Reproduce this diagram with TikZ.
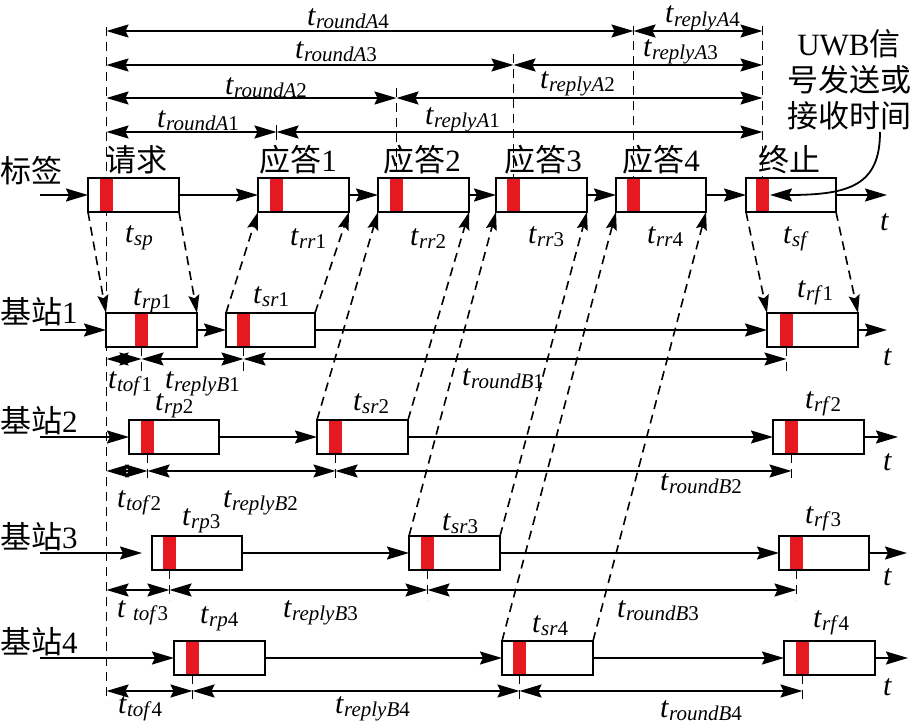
\documentclass[tikz,border=0pt]{standalone}
\usepackage{fontspec}
\setmainfont{Liberation Serif}
\newfontfamily\cjk{Noto Sans CJK SC}
\usetikzlibrary{arrows.meta}
\pgfdeclarelayer{bg}
\pgfsetlayers{bg,main}
\definecolor{barred}{RGB}{230,25,32}
\newcommand\tl[2]{\textit{t}\raisebox{-3pt}{\fontsize{21}{21}\selectfont\textit{#1}#2}}
\newcommand\pkt[5]{%
  \node[pktbox, minimum width={(#3-#2)*1pt}, anchor=north west] (#1) at (#2,#4) {};
  \fill[barred] (#5,#4) rectangle ({#5+13},{#4+34});
  \draw[boxline] (#1.north west) rectangle (#1.south east);
  \coordinate (#1m) at ({#5+6.5},{#4+34});
}
\tikzset{
  tipA/.tip={Stealth[length=22pt,width=13pt,inset=3pt]},
  tipB/.tip={Stealth[length=18pt,width=11pt,inset=3pt]},
  arr/.style={line width=1.8pt, -tipA},
  dim/.style={line width=1.8pt, tipA-tipA},
  dline/.style={line width=1.6pt, dash pattern=on 9pt off 6pt},
  darr/.style={dline, -tipB},
  pktbox/.style={minimum height=34pt, inner sep=0pt, outer sep=0pt, fill=white},
  boxline/.style={line width=2pt},
  lab/.style={inner sep=0pt, anchor=base west, font=\fontsize{30}{30}\selectfont},
  cjklab/.style={inner sep=0pt, font=\fontsize{31}{31}\selectfont},
}
\begin{document}
\begin{tikzpicture}[x=1pt,y=-1pt]
\useasboundingbox (0,0) rectangle (913,728);
% reference rows
\coordinate (r4) at (0,31);
\coordinate (r3) at (0,65);
\coordinate (r2) at (0,98);
\coordinate (r1) at (0,132);
\coordinate (m1) at (0,359);
\coordinate (m2) at (0,471);
\coordinate (m3) at (0,590);
\coordinate (m4) at (0,691);
\coordinate (vtop) at (0,27);
\coordinate (vbot) at (0,702);
\coordinate (v2) at (0,88);
\coordinate (v3) at (0,54);
\coordinate (v4) at (0,26);
% ---- tag row
\pkt{req}{88}{179}{178}{100}
\pkt{a1}{258}{349}{178}{270}
\pkt{a2}{378}{469}{178}{390}
\pkt{a3}{496}{587}{178}{507}
\pkt{a4}{616}{706}{178}{627}
\pkt{fin}{746}{836}{178}{756}
% ---- base station 1
\pkt{rp1}{106}{197}{313}{135}
\pkt{sr1}{226}{315}{313}{237}
\pkt{rf1}{767}{858}{313}{780}
% ---- base station 2
\pkt{rp2}{129}{219}{420}{141}
\pkt{sr2}{317}{408}{420}{329}
\pkt{rf2}{773}{864}{420}{785}
% ---- base station 3
\pkt{rp3}{152}{242}{536}{163}
\pkt{sr3}{409}{500}{536}{421}
\pkt{rf3}{779}{869}{536}{790}
% ---- base station 4
\pkt{rp4}{174}{265}{641}{186}
\pkt{sr4}{502}{593}{641}{513}
\pkt{rf4}{784}{875}{641}{796}

% dashed guide lines (behind boxes)
\begin{pgfonlayer}{bg}
\draw[dline] (reqm |- vtop) -- (reqm |- vbot);
\draw[dline] (a2m |- v2) -- (a2.north -| a2m);
\draw[dline] (a3m |- v3) -- (a3.north -| a3m);
\draw[dline] (a4m |- v4) -- (a4.north -| a4m);
\draw[dline] (finm |- v4) -- (fin.north -| finm);
\end{pgfonlayer}
\coordinate (t1a) at (276.5,125);
\coordinate (t1b) at (276.5,140);
\draw[line width=1.6pt] (t1a) -- (t1b);

% top dimension arrows
\draw[dim] (reqm |- r4) -- (a4m |- r4);
\draw[dim] (a4m |- r4) -- (finm |- r4);
\draw[dim] (reqm |- r3) -- (a3m |- r3);
\draw[dim] (a3m |- r3) -- (finm |- r3);
\draw[dim] (reqm |- r2) -- (a2m |- r2);
\draw[dim] (a2m |- r2) -- (finm |- r2);
\draw[dim] (reqm |- r1) -- (a1m |- r1);
\draw[dim] (a1m |- r1) -- (finm |- r1);

% time lines
\coordinate (in0) at (40,195);
\coordinate (in1) at (40,330);
\coordinate (in2) at (40,437);
\coordinate (in3) at (40,553);
\coordinate (in3e) at (142,553);
\coordinate (in4) at (40,658);
\coordinate (e0) at (887,195);
\coordinate (e1) at (887,330);
\coordinate (e2) at (898,437);
\coordinate (e3) at (907,553);
\coordinate (e4) at (908,658);
\draw[arr] (in0) -- (req.west);
\draw[arr] (req.east) -- (a1.west);
\draw[arr] (a1.east) -- (a2.west);
\draw[arr] (a2.east) -- (a3.west);
\draw[arr] (a3.east) -- (a4.west);
\draw[arr] (a4.east) -- (fin.west);
\draw[arr] (fin.east) -- (e0);
\draw[arr] (in1) -- (rp1.west);
\draw[arr] (rp1.east) -- (sr1.west);
\draw[arr] (sr1.east) -- (rf1.west);
\draw[arr] (rf1.east) -- (e1);
\draw[arr] (in2) -- (rp2.west);
\draw[arr] (rp2.east) -- (sr2.west);
\draw[arr] (sr2.east) -- (rf2.west);
\draw[arr] (rf2.east) -- (e2);
\draw[arr] (in3) -- (in3e);
\draw[arr] (rp3.east) -- (sr3.west);
\draw[arr] (sr3.east) -- (rf3.west);
\draw[arr] (rf3.east) -- (e3);
\draw[arr] (in4) -- (rp4.west);
\draw[arr] (rp4.east) -- (sr4.west);
\draw[arr] (sr4.east) -- (rf4.west);
\draw[arr] (rf4.east) -- (e4);

% slanted dashed signal arrows
\draw[darr] (req.south west) -- (rp1.north west);
\draw[darr] (req.south east) -- (rp1.north east);
\draw[darr] (sr1.north west) -- (a1.south west);
\draw[darr] (sr1.north east) -- (a1.south east);
\draw[darr] (sr2.north west) -- (a2.south west);
\draw[darr] (sr2.north east) -- (a2.south east);
\draw[darr] (sr3.north west) -- (a3.south west);
\draw[darr] (sr3.north east) -- (a3.south east);
\draw[darr] (sr4.north west) -- (a4.south west);
\draw[darr] (sr4.north east) -- (a4.south east);
\draw[darr] (fin.south west) -- (rf1.north west);
\draw[darr] (fin.south east) -- (rf1.north east);

% ticks below station boxes
\draw[dline] (rp1m) -- ++(0,25);
\draw[dline] (sr1m) -- ++(0,25);
\draw[dline] (rf1m) -- ++(0,30);
\draw[dline] (rp2m) -- ++(0,25);
\draw[dline] (sr2m) -- ++(0,25);
\draw[dline] (rf2m) -- ++(0,30);
\draw[dline] (rp3m) -- ++(0,30);
\draw[dline] (sr3m) -- ++(0,30);
\draw[dline] (rf3m) -- ++(0,30);
\draw[dline] (rp4m) -- ++(0,30);
\draw[dline] (sr4m) -- ++(0,30);
\draw[dline] (rf4m) -- ++(0,30);

% station dimension arrows
\draw[dim] (reqm |- m1) -- (rp1m |- m1);
\draw[dim] (rp1m |- m1) -- (sr1m |- m1);
\draw[dim] (sr1m |- m1) -- (rf1m |- m1);
\draw[dim] (reqm |- m2) -- (rp2m |- m2);
\draw[dim] (rp2m |- m2) -- (sr2m |- m2);
\draw[dim] (sr2m |- m2) -- (rf2m |- m2);
\draw[dim] (reqm |- m3) -- (rp3m |- m3);
\draw[dim] (rp3m |- m3) -- (sr3m |- m3);
\draw[dim] (sr3m |- m3) -- (rf3m |- m3);
\draw[dim] (reqm |- m4) -- (rp4m |- m4);
\draw[dim] (rp4m |- m4) -- (sr4m |- m4);
\draw[dim] (sr4m |- m4) -- (rf4m |- m4);

% UWB note and curved arrow
\node[cjklab, align=center, font=\fontsize{31}{36}\selectfont] (uwb) at (849,80) {UWB{\cjk 信}\\{\cjk 号发送或}\\{\cjk 接收时间}};
\coordinate (uwbS) at (880,132);
\coordinate (finR) at (770,195);
\draw[arr] (uwbS) .. controls (880,185) and (850,195) .. (finR);

% Chinese labels
\node[cjklab, anchor=west] (ltag) at (0,171) {{\cjk 标签}};
\node[cjklab, anchor=west] (lbs1) at (0,312) {{\cjk 基站}1};
\node[cjklab, anchor=west] (lbs2) at (0,421) {{\cjk 基站}2};
\node[cjklab, anchor=west] (lbs3) at (0,537) {{\cjk 基站}3};
\node[cjklab, anchor=west] (lbs4) at (0,642) {{\cjk 基站}4};
\node[cjklab] (lreq) at (136,160) {{\cjk 请求}};
\node[cjklab] (la1) at (298,160) {{\cjk 应答}1};
\node[cjklab] (la2) at (422,160) {{\cjk 应答}2};
\node[cjklab] (la3) at (543,160) {{\cjk 应答}3};
\node[cjklab] (la4) at (661,160) {{\cjk 应答}4};
\node[cjklab] (lfin) at (789,160) {{\cjk 终止}};

% time labels (top)
\node[lab] (lrA4) at (307,25) {\tl{roundA}{4}};
\node[lab] (lpA4) at (665,23) {\tl{replyA}{4}};
\node[lab] (lrA3) at (295,58) {\tl{roundA}{3}};
\node[lab] (lpA3) at (643,56) {\tl{replyA}{3}};
\node[lab] (lrA2) at (225,94) {\tl{roundA}{2}};
\node[lab] (lpA2) at (540,88) {\tl{replyA}{2}};
\node[lab] (lrA1) at (157,127) {\tl{roundA}{1}};
\node[lab] (lpA1) at (425,124) {\tl{replyA}{1}};
% tag row
\node[lab] (lsp) at (125,242) {\tl{sp}{}};
\node[lab] (lrr1) at (290,245) {\tl{rr}{1}};
\node[lab] (lrr2) at (410,245) {\tl{rr}{2}};
\node[lab] (lrr3) at (528,243) {\tl{rr}{3}};
\node[lab] (lrr4) at (647,243) {\tl{rr}{4}};
\node[lab] (lsf) at (783,243) {\tl{sf}{}};
\node[lab] (tax0) at (880,230) {\textit{t}};
% station 1
\node[lab] (lrp1) at (133,305) {\tl{rp}{1}};
\node[lab] (lsr1) at (253,303) {\tl{sr}{1}};
\node[lab] (lrf1) at (797,297) {\tl{rf}{1}};
\node[lab] (ltof1) at (108,388) {\tl{tof}{1}};
\node[lab] (lrB1) at (165,388) {\tl{replyB}{1}};
\node[lab] (loB1) at (462,385) {\tl{roundB}{1}};
\node[lab] (tax1) at (883,365) {\textit{t}};
% station 2
\node[lab] (lrp2) at (155,410) {\tl{rp}{2}};
\node[lab] (lsr2) at (353,410) {\tl{sr}{2}};
\node[lab] (lrf2) at (805,408) {\tl{rf}{2}};
\node[lab] (ltof2) at (117,507) {\tl{tof}{2}};
\node[lab] (lrB2) at (223,507) {\tl{replyB}{2}};
\node[lab] (loB2) at (660,490) {\tl{roundB}{2}};
\node[lab] (tax2) at (883,470) {\textit{t}};
% station 3
\node[lab] (lrp3) at (182,525) {\tl{rp}{3}};
\node[lab] (lsr3) at (442,530) {\tl{sr}{3}};
\node[lab] (lrf3) at (805,523) {\tl{rf}{3}};
\node[lab] (ltof3) at (117,617) {\textit{t}\hspace{7pt}\raisebox{-3pt}{\fontsize{21}{21}\selectfont\textit{tof}3}};
\node[lab] (lrB3) at (283,617) {\tl{replyB}{3}};
\node[lab] (loB3) at (617,617) {\tl{roundB}{3}};
\node[lab] (tax3) at (883,585) {\textit{t}};
% station 4
\node[lab] (lrp4) at (200,623) {\tl{rp}{4}};
\node[lab] (lsr4) at (532,632) {\tl{sr}{4}};
\node[lab] (lrf4) at (813,627) {\tl{rf}{4}};
\node[lab] (ltof4) at (118,713) {\tl{tof}{4}};
\node[lab] (lrB4) at (335,713) {\tl{replyB}{4}};
\node[lab] (loB4) at (660,717) {\tl{roundB}{4}};
\node[lab] (tax4) at (883,695) {\textit{t}};
\end{tikzpicture}
\end{document}
